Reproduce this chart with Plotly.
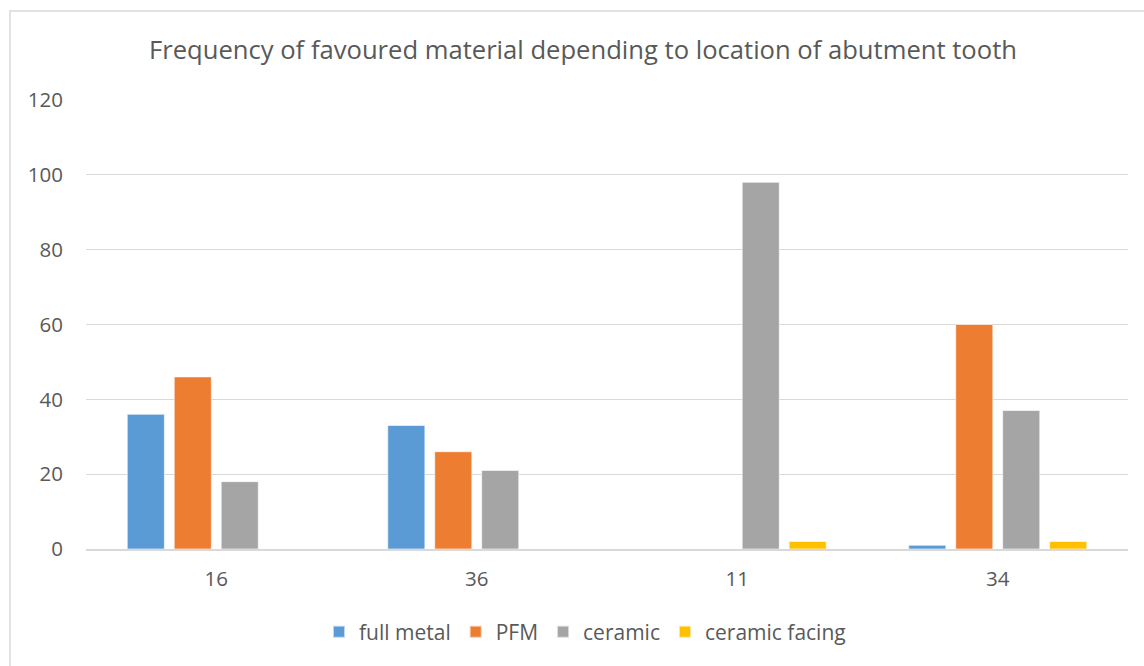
import plotly.graph_objects as go

categories = ["16", "36", "11", "34"]
series_names = ["full metal", "PFM", "ceramic", "ceramic facing"]
full_metal = [36, 33, 0, 1]
pfm = [46, 26, 0, 60]
ceramic = [18, 21, 98, 37]
ceramic_facing = [0, 0, 2, 2]
y_ticks = [0, 20, 40, 60, 80, 100, 120]

colors = ["#5B9BD5", "#ED7D31", "#A5A5A5", "#FFC000"]
values = [full_metal, pfm, ceramic, ceramic_facing]

W, H = 1144, 666
L, R, T, B = 86, 16, 100, 117
pw, ph = W - L - R, H - T - B

def px_to_paper_x(px):
    return (px - L) / pw

def px_to_paper_y(py):
    return (H - B - py) / ph

FONT = "Open Sans"
TXT = "#595959"

fig = go.Figure()
for name, vals, col in zip(series_names, values, colors):
    fig.add_trace(go.Bar(
        x=categories, y=vals, name=name,
        marker=dict(color=col, line=dict(color="rgba(255,255,255,0.6)", width=1)),
    ))

fig.update_layout(
    width=W, height=H,
    margin=dict(l=L, r=R, t=T, b=B),
    paper_bgcolor="white", plot_bgcolor="white",
    barmode="group", bargap=0.279, bargroupgap=0.21,
    font=dict(family=FONT, color=TXT, size=20),
    title=dict(
        text="Frequency of favoured material depending to location of abutment tooth",
        x=px_to_paper_x(583), xref="paper", xanchor="center",
        y=1 - 50 / H, yanchor="middle",
        font=dict(family=FONT, size=25.6, color=TXT),
    ),
    showlegend=True,
    legend=dict(
        orientation="h", x=px_to_paper_x(585), xanchor="center",
        y=px_to_paper_y(632), yanchor="middle",
        font=dict(family=FONT, size=21, color=TXT),
        itemsizing="constant", traceorder="normal",
        itemwidth=30,
    ),
    xaxis=dict(
        type="category", showgrid=False, zeroline=False,
        showline=True, linecolor="#D9D9D9", linewidth=1.5,
        ticks="", tickfont=dict(family=FONT, size=20.5, color=TXT),
        ticklabelstandoff=11,
    ),
    yaxis=dict(
        range=[0, 120], tickvals=y_ticks,
        showgrid=True, gridcolor="#D9D9D9", gridwidth=1,
        zeroline=False, showline=False, ticks="",
        tickfont=dict(family=FONT, size=20.5, color=TXT),
        ticklabelstandoff=22,
    ),
    shapes=[dict(
        type="rect", xref="paper", yref="paper",
        x0=px_to_paper_x(10), x1=px_to_paper_x(1200),
        y0=px_to_paper_y(720), y1=px_to_paper_y(11),
        line=dict(color="#D9D9D9", width=1.5), fillcolor="rgba(0,0,0,0)",
        layer="below",
    )],
)

fig.write_html("out.html")
